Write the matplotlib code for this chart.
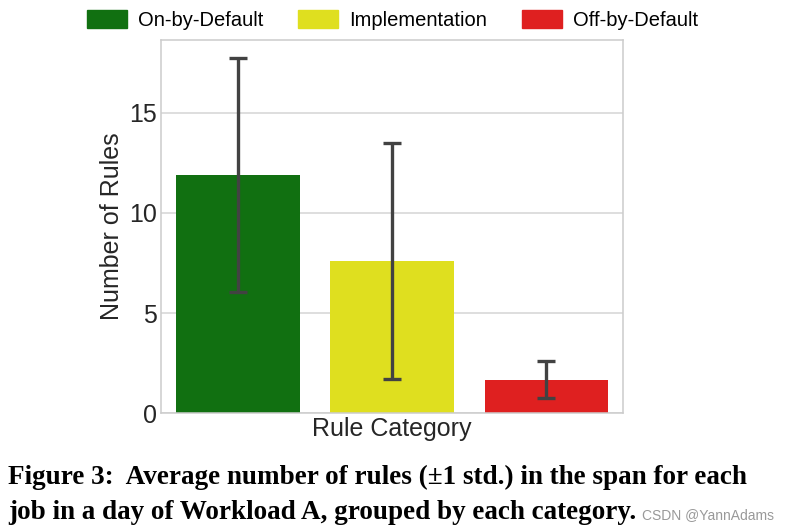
import matplotlib
matplotlib.use("Agg")
import matplotlib.pyplot as plt
from matplotlib.patches import Patch
import numpy as np

categories = ["On-by-Default", "Implementation", "Off-by-Default"]
means = [11.9, 7.6, 1.67]
stds = [5.85, 5.9, 0.93]
colors = ["#117011", "#dfdf1f", "#df2020"]

plt.rcParams['font.family'] = ['Liberation Sans', 'DejaVu Sans']

fig = plt.figure(figsize=(7.89, 5.31), dpi=100)
ax = fig.add_axes([0.204, 0.222, 0.586, 0.703])

xs = np.arange(len(categories))
ax.bar(xs, means, width=0.8, color=colors, zorder=2)
ax.errorbar(xs, means, yerr=stds, fmt='none', ecolor='#424242',
            elinewidth=2.4, capsize=6.5, capthick=2.4, zorder=3)

ax.set_xlim(-0.5, 2.5)
ax.set_ylim(0, 18.65)
ax.set_yticks([0, 5, 10, 15])
ax.set_xticks([])
ax.tick_params(axis='y', labelsize=18, length=0, pad=3, labelcolor='#262626')
ax.yaxis.grid(True, color='#d5d5d5', lw=1.1, zorder=0)
ax.set_axisbelow(True)
for s in ax.spines.values():
    s.set_color('#cccccc')
    s.set_linewidth(1.1)
ax.set_ylabel("Number of Rules", fontsize=18, color='#262626', labelpad=3.5)
ax.set_xlabel("Rule Category", fontsize=18, color='#262626', labelpad=3)

handles = [Patch(color=c, label=l) for c, l in zip(colors, categories)]
fig.legend(handles=handles, loc='center', bbox_to_anchor=(0.4975, 0.962), ncol=3,
           frameon=False, fontsize=14.5, handlelength=2.0, handleheight=1.0,
           columnspacing=1.7, handletextpad=0.55)

cap_font = ['Liberation Serif', 'DejaVu Serif']
fig.text(0.010, 0.100, "Figure 3:  Average number of rules (\u00b11 std.) in the span for each",
         fontsize=19.5, fontweight='bold', family=cap_font, va='center', ha='left')
fig.text(0.010, 0.034, "job in a day of Workload A, grouped by each category.",
         fontsize=19.5, fontweight='bold', family=cap_font, va='center', ha='left')
fig.text(0.981, 0.030, "CSDN @YannAdams", fontsize=10, color='#999999',
         ha='right', va='center')

fig.savefig("out.png", dpi=100)
